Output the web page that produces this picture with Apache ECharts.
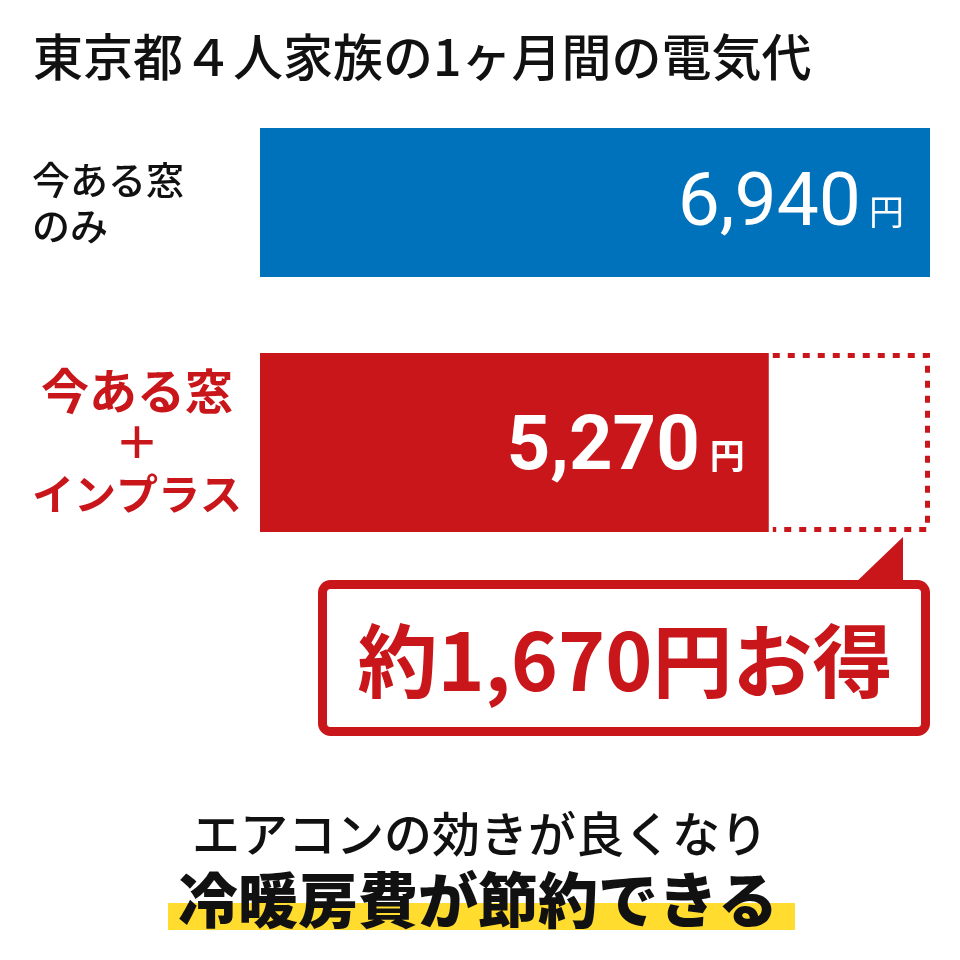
<!DOCTYPE html>
<html>
<head>
<meta charset="utf-8">
<title>東京都４人家族の1ヶ月間の電気代</title>
<script src="https://cdn.jsdelivr.net/npm/echarts@6/dist/echarts.min.js"></script>
<style>
  html, body { margin: 0; padding: 0; background: #fff; }
  #chart { width: 960px; height: 960px; }
</style>
</head>
<body>
<div id="chart"></div>
<script>
// データ
const categories = ['今ある窓\nのみ', '今ある窓\n＋\nインプラス']
const costValues = [6940, 5270]        // 1ヶ月間の電気代（円）
const unitLabel = '円'
const savingValue = costValues[0] - costValues[1]

const JP = '"Noto Sans CJK JP", "Noto Sans", sans-serif'
const NUM = 'Roboto, "Noto Sans", sans-serif'
const BLUE = '#0071BB'
const RED = '#C9161B'

function fmt (v) {
  return v.toLocaleString('en-US')
}

let chart = echarts.init(document.getElementById('chart'))

let option = {
  animation: false,
  backgroundColor: '#fff',
  title: {
    text: '東京都４人家族の1ヶ月間の電気代',
    left: 28,
    top: 27,
    textStyle: {
      fontFamily: JP,
      fontSize: 50,
      fontWeight: 500,
      color: '#111'
    }
  },
  grid: {
    left: 260,
    right: 30,
    top: 82.5,
    height: 480
  },
  xAxis: {
    type: 'value',
    min: 0,
    max: costValues[0],
    show: false
  },
  yAxis: [
    {
      type: 'category',
      data: categories,
      inverse: true,
      axisLine: { show: false },
      axisTick: { show: false },
      splitLine: { show: false },
      axisLabel: {
        align: 'left',
        margin: 228,
        formatter: function (value, index) {
          let lines = value.split('\n')
          if (index === 0) {
            return lines.map(function (s) { return '{a|' + s + '}' }).join('\n')
          }
          return '{b|' + lines[0] + '}\n{p|' + lines[1] + '}\n{k|' + lines[2] + '}'
        },
        rich: {
          a: { fontFamily: JP, fontSize: 38, fontWeight: 500, color: '#111', lineHeight: 46 },
          b: { fontFamily: JP, fontSize: 48, fontWeight: 700, color: RED, lineHeight: 54, align: 'center' },
          p: { fontFamily: JP, fontSize: 44, fontWeight: 700, color: RED, lineHeight: 50, align: 'center' },
          k: { fontFamily: JP, fontSize: 42, fontWeight: 700, color: RED, lineHeight: 54, align: 'center' }
        }
      }
    },
    {
      type: 'category',
      data: categories,
      inverse: true,
      show: false
    }
  ],
  series: [
    {
      name: categories[0],
      type: 'bar',
      yAxisIndex: 0,
      barWidth: 149,
      data: [costValues[0], '-'],
      itemStyle: { color: BLUE },
      label: {
        show: true,
        position: 'insideRight',
        distance: 26,
        offset: [0, 4],
        formatter: function (p) { return '{v|' + fmt(p.value) + '}{u|' + unitLabel + '}' },
        rich: {
          v: { fontFamily: NUM, fontSize: 75, fontWeight: 400, color: '#fff', lineHeight: 76 },
          u: { fontFamily: JP, fontSize: 35, fontWeight: 400, color: '#fff', padding: [10, 0, 0, 8] }
        }
      }
    },
    {
      name: 'インプラス',
      type: 'bar',
      yAxisIndex: 1,
      barWidth: 179,
      data: ['-', costValues[1]],
      itemStyle: { color: RED },
      z: 3,
      label: {
        show: true,
        position: 'insideRight',
        distance: 24,
        offset: [0, 7],
        formatter: function (p) { return '{v|' + fmt(p.value) + '}{u|' + unitLabel + '}' },
        rich: {
          v: { fontFamily: NUM, fontSize: 76, fontWeight: 700, color: '#fff', lineHeight: 78 },
          u: { fontFamily: JP, fontSize: 35, fontWeight: 700, color: '#fff', padding: [12, 0, 0, 10] }
        }
      }
    },
    {
      // 削減分の点線枠
      type: 'custom',
      yAxisIndex: 1,
      z: 2,
      data: [[costValues[1], costValues[0], 1]],
      renderItem: function (params, api) {
        let p0 = api.coord([api.value(0), api.value(2)])
        let p1 = api.coord([api.value(1), api.value(2)])
        let h = 179
        let lw = 5
        let top = p0[1] - h / 2 + lw / 2
        let bottom = p0[1] + h / 2 - lw / 2
        let right = p1[0] - lw / 2
        return {
          type: 'polyline',
          shape: {
            points: [[p0[0] + 4, top], [right, top], [right, bottom], [p0[0] + 4, bottom]]
          },
          style: {
            stroke: RED,
            lineWidth: lw,
            lineDash: [7, 8],
            fill: null
          }
        }
      }
    }
  ],
  graphic: [
    {
      type: 'polygon',
      shape: { points: [[852, 586], [903, 586], [903, 537]] },
      style: { fill: RED }
    },
    {
      type: 'rect',
      shape: { x: 322.5, y: 584.5, width: 603, height: 147, r: 8 },
      style: { fill: '#fff', stroke: RED, lineWidth: 9 }
    },
    {
      type: 'text',
      x: 625,
      y: 661,
      style: {
        text: '約' + fmt(savingValue) + '円お得',
        fill: RED,
        fontFamily: JP,
        fontSize: 80,
        fontWeight: 700,
        align: 'center',
        verticalAlign: 'middle'
      }
    },
    {
      type: 'rect',
      shape: { x: 168, y: 903, width: 627, height: 27 },
      style: { fill: '#FFDC2E' }
    },
    {
      type: 'text',
      x: 480,
      y: 834,
      style: {
        text: 'エアコンの効きが良くなり',
        fill: '#111',
        fontFamily: JP,
        fontSize: 48,
        fontWeight: 500,
        align: 'center',
        verticalAlign: 'middle'
      }
    },
    {
      type: 'text',
      x: 478,
      y: 900,
      style: {
        text: '冷暖房費が節約できる',
        fill: '#111',
        fontFamily: JP,
        fontSize: 60,
        fontWeight: 900,
        align: 'center',
        verticalAlign: 'middle'
      }
    }
  ]
}

chart.setOption(option)
window.addEventListener('resize', function () { chart.resize() })
</script>
</body>
</html>
